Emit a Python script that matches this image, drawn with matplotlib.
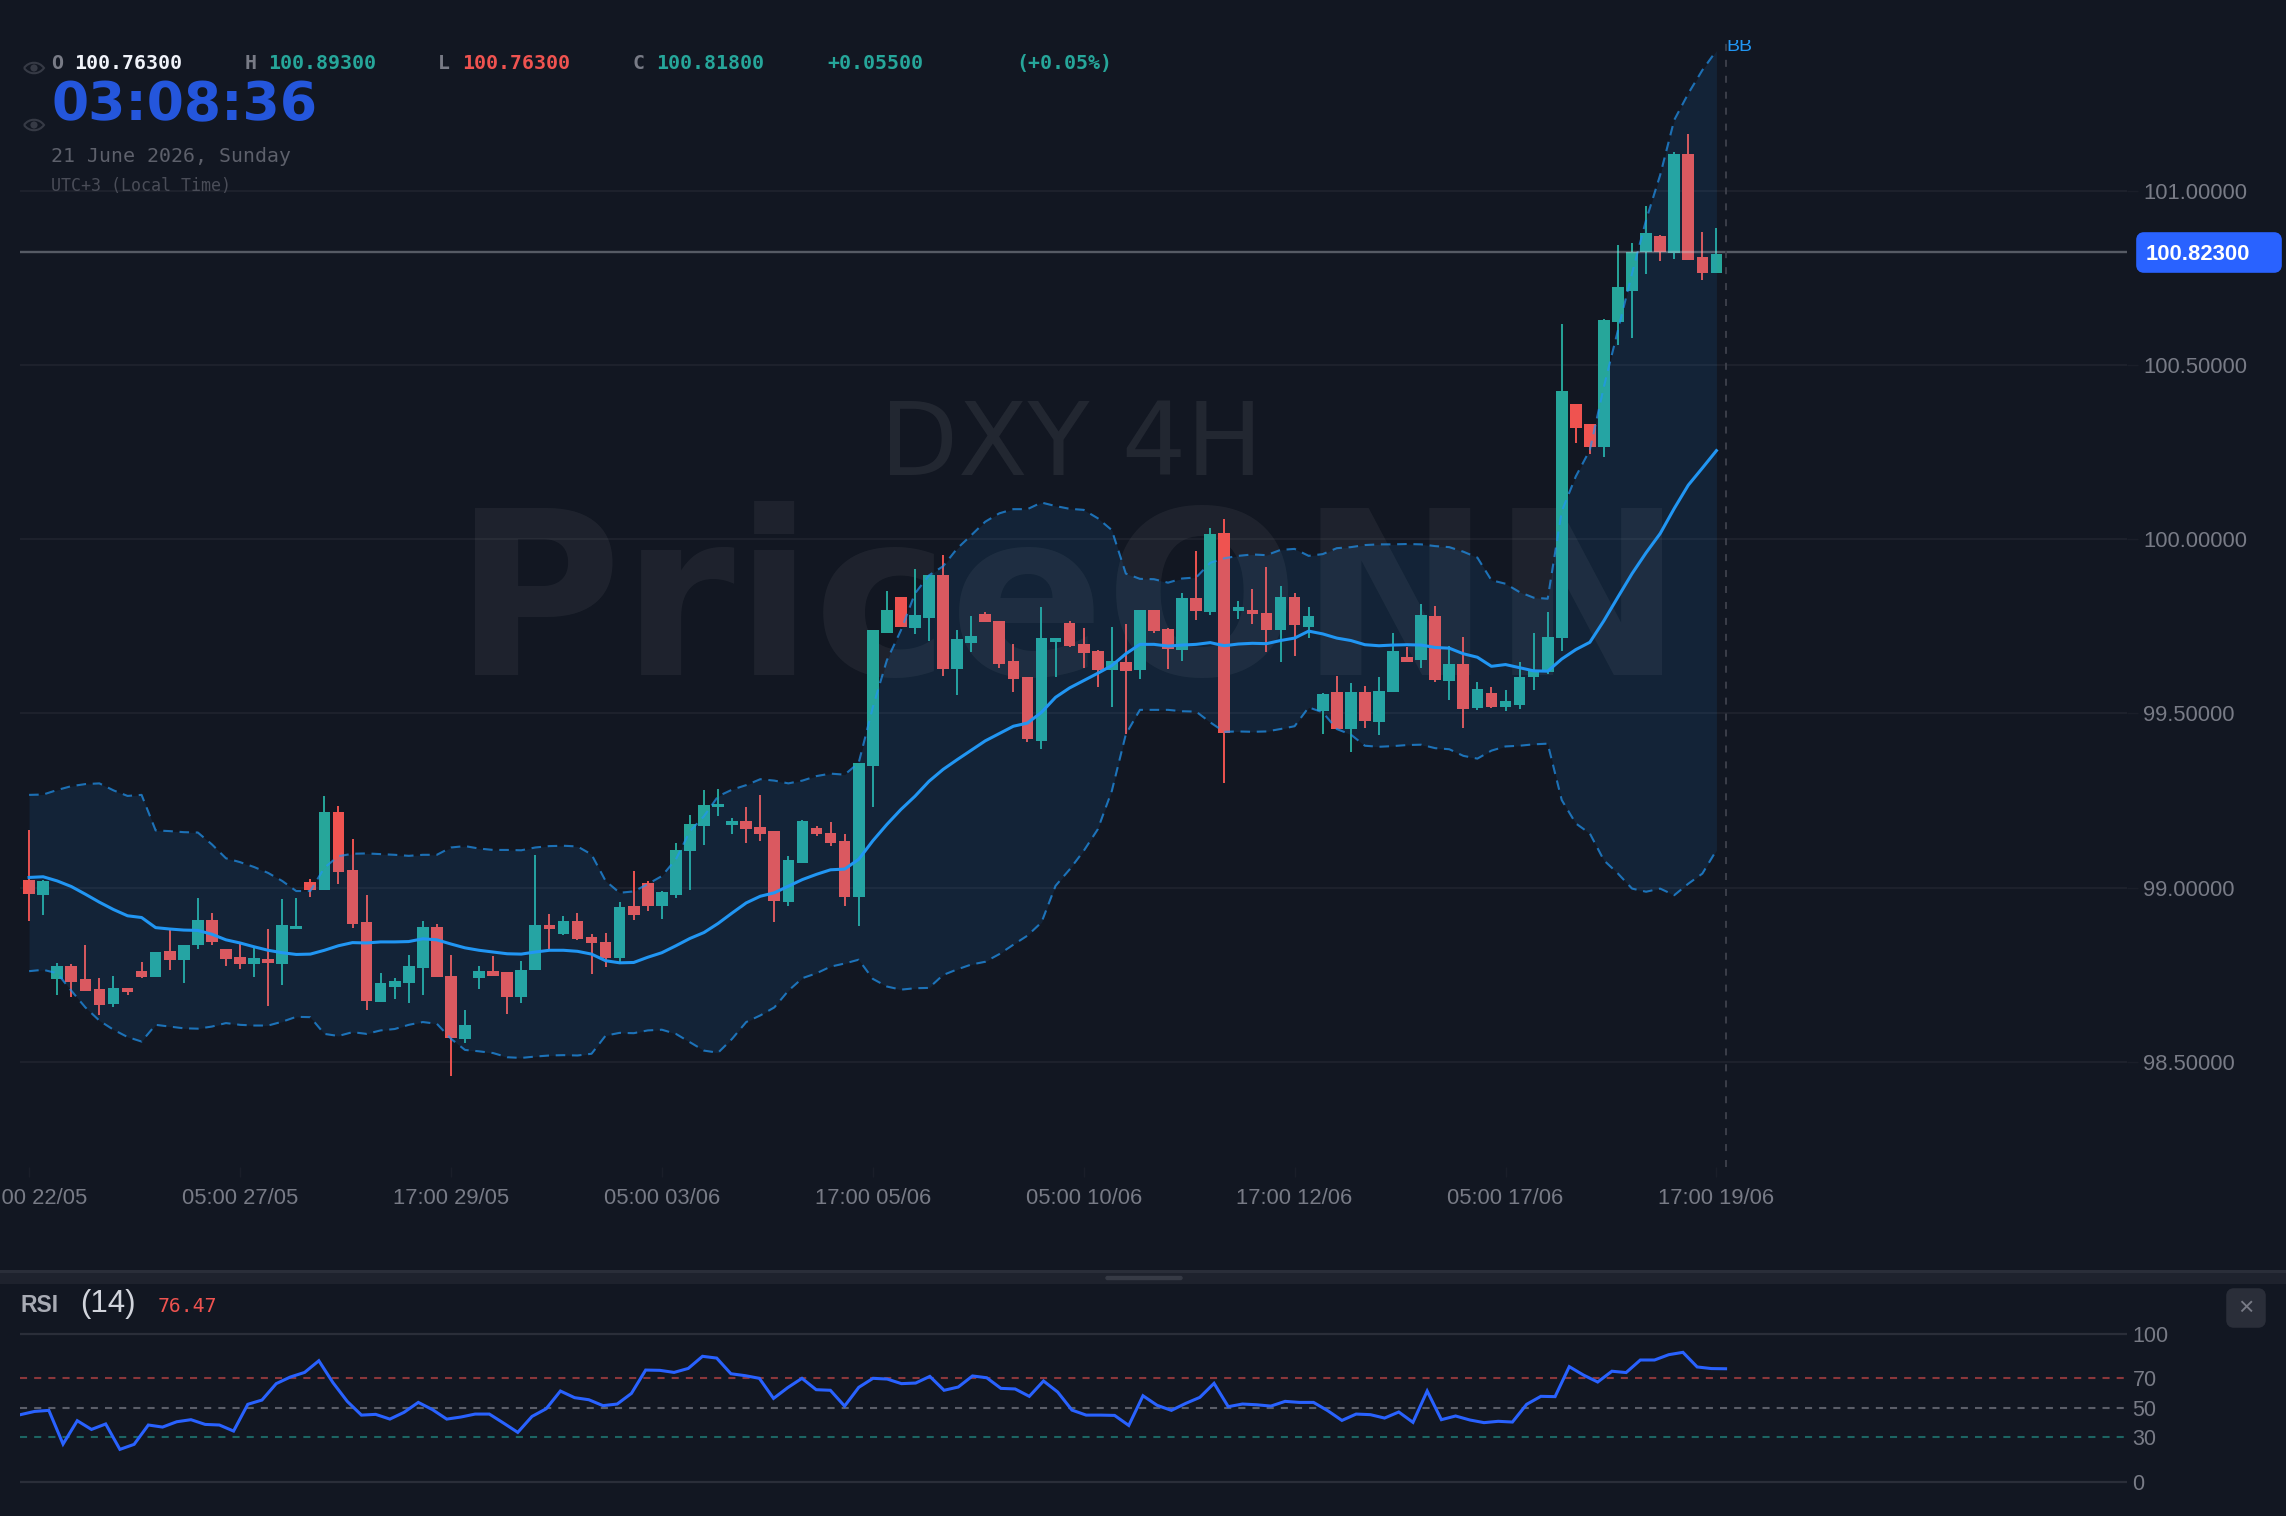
import numpy as np
import matplotlib
matplotlib.use('Agg')
import matplotlib.pyplot as plt
from matplotlib.patches import FancyBboxPatch, PathPatch, Circle
from matplotlib.path import Path

W, H = 2286, 1516
BG = '#121722'
GREEN = '#26a69a'
RED = '#ef5350'
BLUE = '#2196f3'
MUTED = '#787b86'

opens = [99.021, 98.979, 98.737, 98.774, 98.738, 98.710, 98.665, 98.712, 98.761, 98.744,
         98.817, 98.792, 98.835, 98.906, 98.823, 98.802, 98.780, 98.796, 98.782, 98.880,
         99.016, 98.994, 99.217, 99.051, 98.900, 98.671, 98.716, 98.727, 98.770, 98.886,
         98.747, 98.565, 98.739, 98.760, 98.757, 98.687, 98.762, 98.892, 98.868, 98.904,
         98.859, 98.844, 98.799, 98.947, 99.012, 98.947, 98.980, 99.106, 99.177, 99.230,
         99.179, 99.191, 99.174, 99.161, 98.958, 99.071, 99.170, 99.158, 99.135, 98.973,
         99.349, 99.732, 99.834, 99.745, 99.774, 99.898, 99.626, 99.703, 99.784, 99.766,
         99.649, 99.604, 99.422, 99.704, 99.760, 99.700, 99.678, 99.623, 99.648, 99.623,
         99.797, 99.741, 99.681, 99.832, 99.790, 100.017, 99.794, 99.798, 99.789, 99.739,
         99.834, 99.748, 99.506, 99.560, 99.455, 99.560, 99.474, 99.560, 99.663, 99.652,
         99.778, 99.592, 99.642, 99.515, 99.559, 99.518, 99.524, 99.604, 99.619, 99.715,
         100.388, 100.329, 100.264, 100.624, 100.713, 100.823, 100.870, 100.822, 101.105, 100.810,
         100.763]
highs = [99.164, 99.021, 98.783, 98.781, 98.836, 98.740, 98.746, 98.712, 98.786, 98.814,
         98.881, 98.836, 98.969, 98.926, 98.823, 98.842, 98.828, 98.881, 98.967, 98.970,
         99.024, 99.262, 99.233, 99.138, 98.979, 98.755, 98.740, 98.807, 98.904, 98.894,
         98.807, 98.649, 98.776, 98.803, 98.757, 98.788, 99.094, 98.925, 98.918, 98.926,
         98.866, 98.869, 98.958, 99.047, 99.018, 98.991, 99.127, 99.209, 99.279, 99.282,
         99.200, 99.231, 99.267, 99.161, 99.090, 99.193, 99.177, 99.188, 99.153, 99.357,
         99.739, 99.850, 99.834, 99.913, 99.896, 99.955, 99.738, 99.780, 99.792, 99.766,
         99.699, 99.604, 99.804, 99.717, 99.766, 99.746, 99.683, 99.747, 99.757, 99.798,
         99.797, 99.745, 99.846, 99.967, 100.033, 100.058, 99.821, 99.856, 99.921, 99.866,
         99.846, 99.806, 99.558, 99.607, 99.587, 99.578, 99.603, 99.732, 99.690, 99.815,
         99.809, 99.693, 99.720, 99.589, 99.576, 99.566, 99.646, 99.731, 99.792, 100.618,
         100.388, 100.329, 100.631, 100.845, 100.851, 100.956, 100.872, 101.112, 101.162, 100.882,
         100.893]
lows = [98.905, 98.922, 98.692, 98.685, 98.703, 98.633, 98.656, 98.691, 98.740, 98.742,
        98.763, 98.726, 98.825, 98.836, 98.775, 98.767, 98.742, 98.661, 98.721, 98.880,
        98.974, 98.992, 99.011, 98.883, 98.649, 98.671, 98.680, 98.668, 98.691, 98.743,
        98.459, 98.555, 98.708, 98.745, 98.637, 98.668, 98.762, 98.824, 98.865, 98.849,
        98.751, 98.773, 98.787, 98.906, 98.932, 98.911, 98.970, 98.993, 99.123, 99.206,
        99.153, 99.129, 99.135, 98.902, 98.948, 99.071, 99.149, 99.120, 98.948, 98.890,
        99.231, 99.730, 99.748, 99.729, 99.708, 99.607, 99.552, 99.675, 99.761, 99.630,
        99.561, 99.417, 99.399, 99.604, 99.690, 99.629, 99.577, 99.519, 99.440, 99.598,
        99.731, 99.627, 99.649, 99.768, 99.783, 99.300, 99.771, 99.756, 99.676, 99.646,
        99.666, 99.716, 99.442, 99.455, 99.388, 99.458, 99.438, 99.560, 99.647, 99.630,
        99.589, 99.539, 99.459, 99.509, 99.516, 99.506, 99.512, 99.567, 99.612, 99.678,
        100.277, 100.243, 100.237, 100.557, 100.576, 100.761, 100.798, 100.803, 100.800, 100.743,
        100.763]
closes = [98.981, 99.019, 98.775, 98.730, 98.703, 98.664, 98.712, 98.699, 98.744, 98.814,
          98.793, 98.836, 98.906, 98.844, 98.796, 98.781, 98.797, 98.783, 98.893, 98.890,
          98.994, 99.217, 99.046, 98.896, 98.673, 98.725, 98.733, 98.776, 98.887, 98.743,
          98.568, 98.605, 98.760, 98.747, 98.686, 98.764, 98.892, 98.881, 98.903, 98.853,
          98.841, 98.799, 98.944, 98.921, 98.948, 98.987, 99.109, 99.182, 99.236, 99.240,
          99.190, 99.168, 99.155, 98.962, 99.078, 99.190, 99.153, 99.127, 98.973, 99.357,
          99.739, 99.796, 99.748, 99.781, 99.896, 99.626, 99.712, 99.723, 99.761, 99.643,
          99.599, 99.425, 99.717, 99.715, 99.694, 99.673, 99.624, 99.649, 99.622, 99.798,
          99.736, 99.684, 99.832, 99.795, 100.014, 99.443, 99.804, 99.784, 99.739, 99.834,
          99.753, 99.778, 99.555, 99.455, 99.560, 99.479, 99.565, 99.680, 99.647, 99.783,
          99.597, 99.642, 99.512, 99.571, 99.518, 99.534, 99.604, 99.623, 99.720, 100.425,
          100.319, 100.264, 100.629, 100.724, 100.823, 100.879, 100.824, 101.105, 100.800, 100.765,
          100.818]

bb_upper = [99.266, 99.267, 99.280, 99.291, 99.297, 99.299, 99.279, 99.263, 99.266, 99.164,
            99.162, 99.159, 99.158, 99.124, 99.084, 99.073, 99.059, 99.042, 99.019, 98.990,
            98.990, 99.057, 99.090, 99.097, 99.098, 99.096, 99.094, 99.091, 99.094, 99.094,
            99.115, 99.119, 99.112, 99.108, 99.108, 99.107, 99.115, 99.119, 99.120, 99.118,
            99.095, 99.019, 98.985, 98.989, 99.010, 99.033, 99.081, 99.162, 99.205, 99.262,
            99.281, 99.294, 99.311, 99.307, 99.299, 99.307, 99.320, 99.327, 99.324, 99.358,
            99.517, 99.652, 99.738, 99.844, 99.896, 99.922, 99.973, 100.011, 100.050, 100.074,
            100.086, 100.086, 100.105, 100.095, 100.087, 100.084, 100.060, 100.026, 99.901, 99.886,
            99.885, 99.875, 99.887, 99.890, 99.932, 99.945, 99.952, 99.956, 99.954, 99.969,
            99.972, 99.952, 99.957, 99.974, 99.977, 99.983, 99.985, 99.985, 99.986, 99.985,
            99.980, 99.977, 99.964, 99.947, 99.882, 99.872, 99.848, 99.832, 99.829, 100.080,
            100.180, 100.256, 100.438, 100.600, 100.763, 100.916, 101.045, 101.203, 101.279, 101.346,
            101.402]
bb_mid = [99.029, 99.031, 99.019, 99.003, 98.981, 98.958, 98.937, 98.919, 98.914, 98.885,
          98.881, 98.878, 98.877, 98.866, 98.850, 98.841, 98.830, 98.820, 98.813, 98.808,
          98.809, 98.820, 98.833, 98.842, 98.841, 98.844, 98.844, 98.845, 98.853, 98.850,
          98.838, 98.827, 98.820, 98.815, 98.810, 98.809, 98.815, 98.820, 98.820, 98.817,
          98.809, 98.790, 98.784, 98.785, 98.800, 98.813, 98.833, 98.854, 98.871, 98.897,
          98.927, 98.956, 98.975, 98.985, 99.004, 99.023, 99.038, 99.051, 99.053, 99.081,
          99.134, 99.181, 99.224, 99.262, 99.305, 99.339, 99.367, 99.394, 99.421, 99.442,
          99.463, 99.472, 99.503, 99.546, 99.573, 99.594, 99.615, 99.637, 99.671, 99.698,
          99.698, 99.693, 99.696, 99.698, 99.703, 99.694, 99.699, 99.701, 99.700, 99.709,
          99.716, 99.736, 99.728, 99.716, 99.709, 99.697, 99.694, 99.696, 99.697, 99.696,
          99.689, 99.687, 99.671, 99.661, 99.635, 99.640, 99.631, 99.622, 99.621, 99.656,
          99.683, 99.704, 99.766, 99.834, 99.901, 99.961, 100.016, 100.088, 100.155, 100.204,
          100.254]
bb_lower = [98.760, 98.764, 98.754, 98.704, 98.656, 98.618, 98.592, 98.571, 98.558, 98.606,
            98.601, 98.596, 98.595, 98.601, 98.611, 98.606, 98.604, 98.604, 98.615, 98.629,
            98.628, 98.580, 98.574, 98.585, 98.580, 98.590, 98.594, 98.606, 98.614, 98.609,
            98.566, 98.534, 98.530, 98.525, 98.513, 98.511, 98.515, 98.518, 98.519, 98.518,
            98.523, 98.575, 98.583, 98.582, 98.590, 98.592, 98.580, 98.556, 98.532, 98.526,
            98.566, 98.614, 98.633, 98.656, 98.704, 98.740, 98.754, 98.773, 98.782, 98.793,
            98.738, 98.716, 98.707, 98.711, 98.712, 98.749, 98.765, 98.779, 98.787, 98.809,
            98.836, 98.862, 98.900, 99.005, 99.052, 99.105, 99.167, 99.277, 99.440, 99.510,
            99.510, 99.510, 99.506, 99.505, 99.474, 99.447, 99.448, 99.447, 99.448, 99.455,
            99.463, 99.517, 99.503, 99.455, 99.439, 99.407, 99.404, 99.406, 99.409, 99.410,
            99.400, 99.397, 99.378, 99.370, 99.393, 99.405, 99.407, 99.411, 99.413, 99.251,
            99.184, 99.155, 99.078, 99.040, 98.997, 98.988, 98.997, 98.978, 99.011, 99.040,
            99.107]

rsi = [45.4, 47.6, 48.3, 25.5, 41.3, 35.4, 39.1, 21.9, 25.3, 38.4,
       37.0, 40.6, 42.0, 38.8, 38.4, 34.3, 52.4, 55.3, 66.4, 70.9,
       74.0, 81.9, 67.0, 54.4, 45.1, 45.6, 42.4, 47.0, 53.7, 48.8,
       42.4, 43.8, 45.8, 45.8, 39.7, 33.4, 44.2, 49.4, 61.4, 56.9,
       55.5, 51.5, 52.6, 59.8, 75.6, 75.4, 74.0, 76.7, 84.9, 83.7,
       73.1, 71.8, 70.0, 56.4, 63.7, 70.0, 62.3, 61.9, 51.2, 63.9,
       70.0, 69.5, 66.4, 66.8, 71.3, 61.9, 64.1, 71.6, 70.4, 63.2,
       62.8, 57.8, 68.2, 60.7, 48.5, 45.1, 45.1, 44.9, 38.1, 58.2,
       51.7, 48.3, 53.0, 57.1, 66.6, 50.8, 52.6, 52.1, 51.2, 54.4,
       53.7, 53.7, 48.1, 41.5, 45.8, 45.4, 43.1, 47.2, 40.2, 61.4,
       42.0, 44.5, 41.8, 40.0, 40.9, 40.4, 52.4, 57.8, 57.6, 77.9,
       72.2, 67.5, 74.8, 73.9, 82.4, 82.4, 86.0, 87.6, 77.7, 76.6,
       76.47]

time_ticks = [0, 15, 30, 45, 60, 75, 90, 105, 120]
time_labels = ['17:00 22/05', '05:00 27/05', '17:00 29/05', '05:00 03/06', '17:00 05/06',
               '05:00 10/06', '17:00 12/06', '05:00 17/06', '17:00 19/06']
price_ticks = [98.5, 99.0, 99.5, 100.0, 100.5, 101.0]
rsi_ticks = [0, 30, 50, 70, 100]
last_price = 100.823

plt.rcParams['font.family'] = ['Liberation Sans', 'DejaVu Sans']
plt.rcParams['axes.unicode_minus'] = False

fig = plt.figure(figsize=(W / 100, H / 100), dpi=100, facecolor=BG)

# price pane
ax = fig.add_axes([20 / W, 1 - 1167 / H, 2107 / W, 1127 / H], facecolor=BG)
ax.set_xlim(-0.647, 149.2)
ax.set_ylim(98.198, 101.4325)
for s in ax.spines.values():
    s.set_visible(False)

ax.text(73.95, 99.0 + (608 - 462) / 239, 'PriceONN', fontsize=165, fontweight='bold', family='DejaVu Sans',
        color='white', alpha=0.05, ha='center', va='baseline', zorder=1)
ax.text(74.1, 99.0 + (608 - 325) / 239, 'DXY 4H', fontsize=73, family='DejaVu Sans',
        color='white', alpha=0.07, ha='center', va='baseline', zorder=1)

ax.grid(axis='y', color='#1e222d', lw=1.4, zorder=0)
ax.set_axisbelow(True)

x = np.arange(len(closes))
o = np.array(opens)
c = np.array(closes)
candle_colors = [GREEN if b >= a else RED for a, b in zip(o, c)]
ax.vlines(x, lows, highs, colors=candle_colors, lw=1.4, zorder=2)
ax.bar(x, np.abs(c - o), bottom=np.minimum(o, c), width=0.83, color=candle_colors, linewidth=0, zorder=2)

# the band tint sits on top of the candles
ax.fill_between(x, bb_lower, bb_upper, color=BLUE, alpha=0.1, linewidth=0, zorder=3)
ax.plot(x, bb_upper, color=BLUE, alpha=0.7, lw=1.5, dashes=(4.6, 3.2), zorder=4)
ax.plot(x, bb_lower, color=BLUE, alpha=0.7, lw=1.5, dashes=(4.6, 3.2), zorder=4)
ax.plot(x, bb_mid, color=BLUE, lw=2.2, solid_joinstyle='round', zorder=4)
ax.text(120.7, bb_upper[-1], 'BB', color=BLUE, fontsize=14, ha='left', va='baseline', zorder=6, clip_on=True)

ax.axhline(last_price, color='#d1d4dc', alpha=0.36, lw=1.7, zorder=5)
ax.axvline(120.66, color='#3c3f4a', lw=1.4, dashes=(3.6, 4.6), zorder=5)

ax.set_xticks(time_ticks)
ax.set_xticklabels(time_labels)
ax.yaxis.tick_right()
ax.set_yticks(price_ticks)
ax.set_yticklabels(['%.5f' % p for p in price_ticks])
ax.tick_params(axis='x', length=7, width=1.0, color='#1a1e29', pad=8.4, labelsize=15.8, labelcolor=MUTED)
ax.tick_params(axis='y', length=8, width=1.0, color='#1a1e29', pad=3.5, labelsize=15.8, labelcolor=MUTED)

# RSI pane
ax2 = fig.add_axes([20 / W, 0, 2107 / W, 232 / H], facecolor=BG)
ax2.set_xlim(-0.03, 148.25)
ax2.set_ylim(-23.2, 133.85)
for s in ax2.spines.values():
    s.set_visible(False)
ax2.axhline(100, color='#2a2e39', lw=1.6, zorder=1)
ax2.axhline(0, color='#2a2e39', lw=1.6, zorder=1)
ax2.axhline(70, color=RED, alpha=0.55, lw=1.5, dashes=(3.4, 3.4), zorder=1)
ax2.axhline(50, color=MUTED, alpha=0.72, lw=1.5, dashes=(3.4, 3.4), zorder=1)
ax2.axhline(30, color=GREEN, alpha=0.55, lw=1.5, dashes=(3.4, 3.4), zorder=1)
ax2.plot(np.arange(len(rsi)), rsi, color='#2962ff', lw=2.2, solid_joinstyle='miter', zorder=3)
ax2.set_xticks([])
ax2.yaxis.tick_right()
ax2.set_yticks(rsi_ticks)
ax2.tick_params(axis='y', length=0, pad=4, labelsize=15.5, labelcolor=MUTED)

# header, clock, pane divider and buttons, placed in pixels
ui = fig.add_axes([0, 0, 1, 1], facecolor='none')
ui.set_xlim(0, W)
ui.set_ylim(H, 0)
ui.axis('off')

mono = 'DejaVu Sans Mono'
for tx, txt, col, wt in [(51, 'O', MUTED, 'bold'), (74, '%.5f' % opens[-1], '#f0f3fa', 'bold'),
                         (245, 'H', MUTED, 'bold'), (268, '%.5f' % highs[-1], GREEN, 'bold'),
                         (438, 'L', MUTED, 'bold'), (462, '%.5f' % lows[-1], RED, 'bold'),
                         (633, 'C', MUTED, 'bold'), (656, '%.5f' % closes[-1], GREEN, 'bold'),
                         (827, '+0.05500', GREEN, 'bold'), (1016, '(+0.05%)', GREEN, 'bold')]:
    ui.text(tx, 63.5, txt, family=mono, fontsize=14.3, color=col, fontweight=wt, ha='left', va='center')

ui.text(51, 120, '03:08:36', family='DejaVu Sans', fontweight='bold', fontsize=38.5, color='#2456dc',
        ha='left', va='baseline')
ui.text(51, 156.5, '21 June 2026, Sunday', family=mono, fontsize=14.3, color='#5d606b', ha='left', va='center')
ui.text(51, 186, 'UTC+3 (Local Time)', family=mono, fontsize=12, color='#4a4d58', ha='left', va='center')

for cy in (68, 125):
    eye = Path([(24, cy), (29, cy - 7), (39, cy - 7), (44, cy), (39, cy + 7), (29, cy + 7), (24, cy)],
               [Path.MOVETO, Path.CURVE4, Path.CURVE4, Path.CURVE4, Path.CURVE4, Path.CURVE4, Path.CURVE4])
    ui.add_patch(PathPatch(eye, fc='none', ec='#363a45', lw=1.5))
    ui.add_patch(Circle((34, cy), 3.6, fc='#363a45', ec='none'))

ui.add_patch(FancyBboxPatch((2140, 236), 138, 33, boxstyle='round,pad=0,rounding_size=4', fc='#2962ff',
                            ec='#2962ff', lw=5.5, zorder=3))
ui.text(2146, 254, '%.5f' % last_price, fontsize=15.9, fontweight='bold', color='white', ha='left',
        va='center', zorder=4)

ui.fill_between([0, W], 1270, 1272.5, color='#2a2e39', linewidth=0)
ui.fill_between([0, W], 1272.5, 1284, color='#1e222d', linewidth=0)
ui.add_patch(FancyBboxPatch((1106, 1276.5), 76, 3, boxstyle='round,pad=0,rounding_size=1.5', fc='#363a45',
                            ec='#363a45', lw=1))

ui.text(20, 1305, 'RSI', fontsize=16.5, fontweight='bold', color='#a8abb4', ha='left', va='center')
ui.text(80, 1304, '(14)', fontsize=22.5, color='#d1d4dc', ha='left', va='center')
ui.text(158, 1306, '%.2f' % rsi[-1], family=mono, fontsize=14.2, color=RED, ha='left', va='center')

ui.add_patch(FancyBboxPatch((2229, 1291), 34, 34, boxstyle='round,pad=0,rounding_size=5', fc='#2a2e39',
                            ec='#2a2e39', lw=4))
ui.text(2246, 1308, '×', fontsize=19, color=MUTED, ha='center', va='center')

fig.savefig('out.png', dpi=100, facecolor=BG)
